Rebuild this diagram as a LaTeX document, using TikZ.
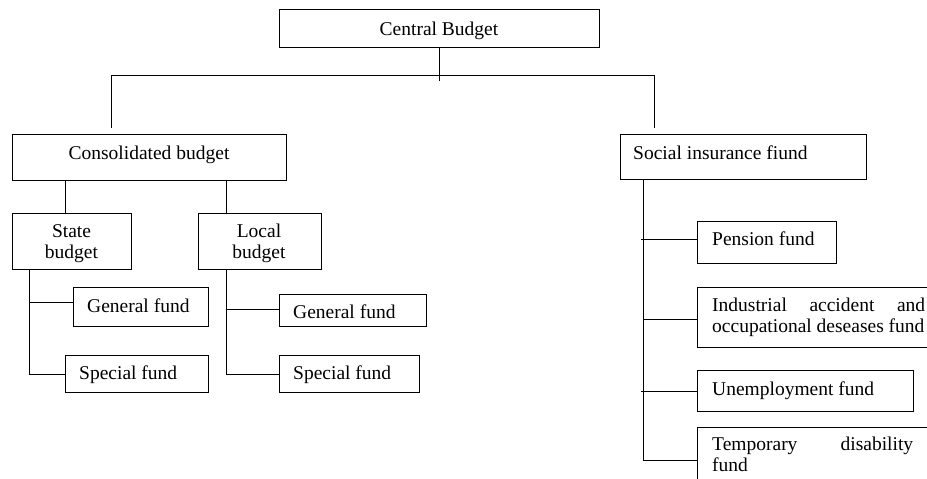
\documentclass[tikz,border=0pt]{standalone}
\usepackage{fontspec}
\setmainfont{Liberation Serif}
\begin{document}
\begin{tikzpicture}[x=1pt,y=-1pt,
  box/.style={draw,line width=0.9pt,inner sep=0pt,anchor=north west},
  txt/.style={inner sep=0pt,anchor=base,font=\fontsize{19.5}{21.5}\selectfont},
  txtl/.style={inner sep=0pt,anchor=base west,font=\fontsize{19.5}{21.5}\selectfont},
  mtxt/.style={inner sep=0pt,font=\fontsize{19.5}{21.5}\selectfont},
  conn/.style={line width=0.9pt}]
\useasboundingbox (0,0) rectangle (927,479);
% boxes
\node[box,minimum width=320pt,minimum height=38pt] (central) at (279,9) {};
\node[box,minimum width=274pt,minimum height=46pt] (cons) at (12,134) {};
\node[box,minimum width=246pt,minimum height=45pt] (soc) at (620,134) {};
\node[box,minimum width=119pt,minimum height=56pt] (state) at (12,213) {};
\node[box,minimum width=123pt,minimum height=56pt] (local) at (198,213) {};
\node[box,minimum width=135pt,minimum height=39pt] (sgen) at (73,287) {};
\node[box,minimum width=143pt,minimum height=37pt] (sspec) at (65,355) {};
\node[box,minimum width=147pt,minimum height=32pt] (lgen) at (279,294) {};
\node[box,minimum width=140pt,minimum height=37pt] (lspec) at (279,355) {};
\node[box,minimum width=139pt,minimum height=42pt] (pens) at (697,221) {};
\node[box,minimum width=243pt,minimum height=60pt] (indus) at (697,287) {};
\node[box,minimum width=216pt,minimum height=41pt] (unemp) at (697,370) {};
\node[box,minimum width=243pt,minimum height=80pt] (temp) at (697,427) {};
% texts
\node[txt] (tcentral) at (439,35) {Central Budget};
\node[txt] (tcons) at (149,159) {Consolidated budget};
\node[txtl] (tsoc) at (633,159) {Social insurance fiund};
\node[mtxt,anchor=north,align=center] (tstate) at (71.5,223) {\rule{0pt}{14pt}State\\budget};
\node[mtxt,anchor=north,align=center] (tlocal) at (259,223) {\rule{0pt}{14pt}Local\\budget};
\node[txtl] (tsgen) at (87,312) {General fund};
\node[txtl] (tsspec) at (79,379) {Special fund};
\node[txtl] (tlgen) at (293,318) {General fund};
\node[txtl] (tlspec) at (293,379) {Special fund};
\node[txtl] (tpens) at (712,245) {Pension fund};
\node[mtxt,anchor=north west,text width=213pt,align=justify] (tindus) at (712,297) {\rule{0pt}{14pt}Industrial accident and\linebreak occupational deseases fund};
\node[txtl] (tunemp) at (712,395) {Unemployment fund};
\node[mtxt,anchor=north west,text width=201pt,align=justify] (ttemp) at (712,436) {\rule{0pt}{14pt}Temporary disability\linebreak fund};
% connectors
\coordinate (hl) at (111,75);
\coordinate (hr) at (654,75);
\coordinate (hc) at (central.south |- hl);
\draw[conn] (central.south) -- ++(0,33);
\draw[conn] (hl) -- (hr);
\draw[conn] (hl) -- ++(0,53);
\draw[conn] (hr) -- ++(0,53);
\draw[conn] (cons.south -| 65,0) -- (state.north -| 65,0);
\draw[conn] (cons.south -| 226,0) -- (local.north -| 226,0);
% state subtree
\draw[conn] (state.south -| 29,0) |- (sspec.west);
\draw[conn] (29,302) -- (sgen.west |- 0,302);
% local subtree
\draw[conn] (local.south -| 226,0) |- (lspec.west);
\draw[conn] (226,309) -- (lgen.west |- 0,309);
% social subtree
\draw[conn] (soc.south -| 643,0) |- (temp.west |- 0,460);
\draw[conn] (641,239) -- (pens.west |- 0,239);
\draw[conn] (643,319) -- (indus.west |- 0,319);
\draw[conn] (641,391) -- (unemp.west |- 0,391);
\end{tikzpicture}
\end{document}
